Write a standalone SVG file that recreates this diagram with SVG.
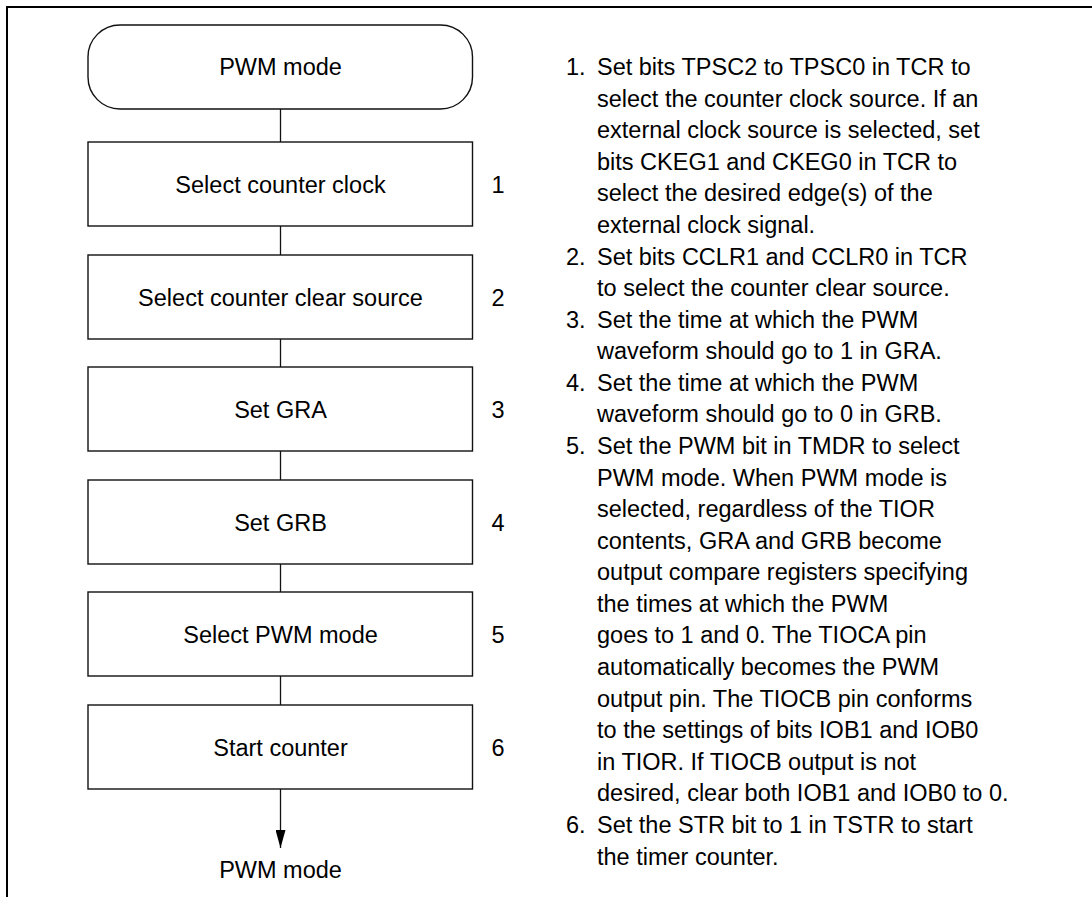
<svg xmlns="http://www.w3.org/2000/svg" width="1092" height="897" viewBox="0 0 1092 897">
<defs>
<style>
.t{font-family:"Liberation Sans",Arial,sans-serif;font-size:23.5px;fill:#000}
.c{text-anchor:middle}
.b{fill:#fff;stroke:#111;stroke-width:1.4}
.ln{stroke:#111;stroke-width:1.3;fill:none}
.fr{stroke:#000;stroke-width:2;fill:none}
</style>
<marker id="ah" markerWidth="18" markerHeight="10" refX="18" refY="5" orient="auto" markerUnits="userSpaceOnUse" viewBox="0 0 18 10">
<path d="M0,0 L18,5 L0,10 Z" fill="#000"/>
</marker>
</defs>
<rect width="1092" height="897" fill="#fff"/>
<path class="fr" d="M7,897 L7,7 L1092,7"/>
<g id="connectors">
<line class="ln" x1="280.5" y1="109" x2="280.5" y2="142"/>
<line class="ln" x1="280.5" y1="226" x2="280.5" y2="255"/>
<line class="ln" x1="280.5" y1="339" x2="280.5" y2="367"/>
<line class="ln" x1="280.5" y1="451" x2="280.5" y2="480"/>
<line class="ln" x1="280.5" y1="564" x2="280.5" y2="592"/>
<line class="ln" x1="280.5" y1="676" x2="280.5" y2="705"/>
<line class="ln" x1="280.5" y1="789" x2="280.5" y2="848" marker-end="url(#ah)"/>
</g>
<g id="start">
<rect class="b" x="88" y="25" width="384.5" height="84" rx="32" ry="32"/>
<text class="t c" x="280.5" y="75">PWM mode</text>
</g>
<g id="step1">
<rect class="b" x="88" y="142" width="384.5" height="84"/>
<text class="t c" x="280.5" y="192.5">Select counter clock</text>
<text class="t c" x="498" y="192.5">1</text>
</g>
<g id="step2">
<rect class="b" x="88" y="255" width="384.5" height="84"/>
<text class="t c" x="280.5" y="305.5">Select counter clear source</text>
<text class="t c" x="498" y="305.5">2</text>
</g>
<g id="step3">
<rect class="b" x="88" y="367" width="384.5" height="84"/>
<text class="t c" x="280.5" y="417.5">Set GRA</text>
<text class="t c" x="498" y="417.5">3</text>
</g>
<g id="step4">
<rect class="b" x="88" y="480" width="384.5" height="84"/>
<text class="t c" x="280.5" y="530.5">Set GRB</text>
<text class="t c" x="498" y="530.5">4</text>
</g>
<g id="step5">
<rect class="b" x="88" y="592" width="384.5" height="84"/>
<text class="t c" x="280.5" y="642.5">Select PWM mode</text>
<text class="t c" x="498" y="642.5">5</text>
</g>
<g id="step6">
<rect class="b" x="88" y="705" width="384.5" height="84"/>
<text class="t c" x="280.5" y="755.5">Start counter</text>
<text class="t c" x="498" y="755.5">6</text>
</g>
<g id="end">
<text class="t c" x="280.5" y="878">PWM mode</text>
</g>
<g id="notes">
<text class="t" x="566" y="75">1.</text>
<text class="t" x="597" y="75">Set bits TPSC2 to TPSC0 in TCR to</text>
<text class="t" x="597" y="106.6">select the counter clock source. If an</text>
<text class="t" x="597" y="138.2">external clock source is selected, set</text>
<text class="t" x="597" y="169.7">bits CKEG1 and CKEG0 in TCR to</text>
<text class="t" x="597" y="201.3">select the desired edge(s) of the</text>
<text class="t" x="597" y="232.9">external clock signal.</text>
<text class="t" x="566" y="264.5">2.</text>
<text class="t" x="597" y="264.5">Set bits CCLR1 and CCLR0 in TCR</text>
<text class="t" x="597" y="296.1">to select the counter clear source.</text>
<text class="t" x="566" y="327.6">3.</text>
<text class="t" x="597" y="327.6">Set the time at which the PWM</text>
<text class="t" x="597" y="359.2">waveform should go to 1 in GRA.</text>
<text class="t" x="566" y="390.8">4.</text>
<text class="t" x="597" y="390.8">Set the time at which the PWM</text>
<text class="t" x="597" y="422.4">waveform should go to 0 in GRB.</text>
<text class="t" x="566" y="454">5.</text>
<text class="t" x="597" y="454">Set the PWM bit in TMDR to select</text>
<text class="t" x="597" y="485.5">PWM mode. When PWM mode is</text>
<text class="t" x="597" y="517.1">selected, regardless of the TIOR</text>
<text class="t" x="597" y="548.7">contents, GRA and GRB become</text>
<text class="t" x="597" y="580.3">output compare registers specifying</text>
<text class="t" x="597" y="611.9">the times at which the PWM</text>
<text class="t" x="597" y="643.4">goes to 1 and 0. The TIOCA pin</text>
<text class="t" x="597" y="675">automatically becomes the PWM</text>
<text class="t" x="597" y="706.6">output pin. The TIOCB pin conforms</text>
<text class="t" x="597" y="738.2">to the settings of bits IOB1 and IOB0</text>
<text class="t" x="597" y="769.8">in TIOR. If TIOCB output is not</text>
<text class="t" x="597" y="801.3">desired, clear both IOB1 and IOB0 to 0.</text>
<text class="t" x="566" y="832.9">6.</text>
<text class="t" x="597" y="832.9">Set the STR bit to 1 in TSTR to start</text>
<text class="t" x="597" y="864.5">the timer counter.</text>
</g>
</svg>
